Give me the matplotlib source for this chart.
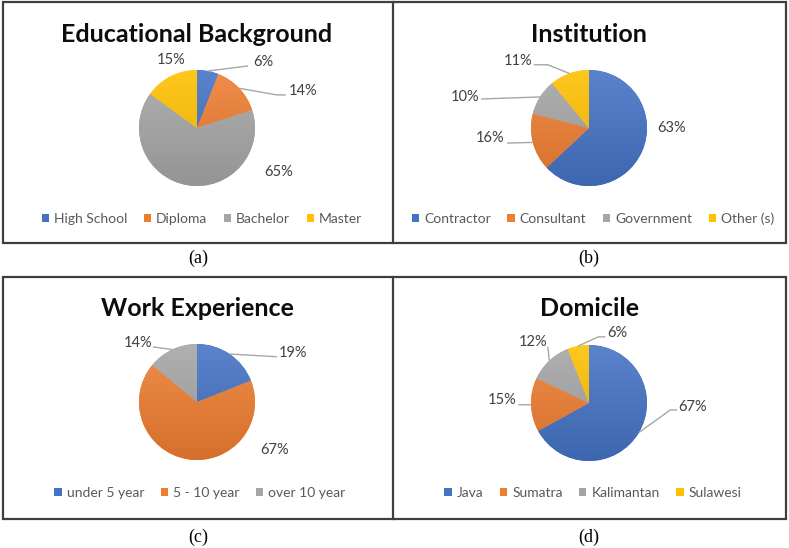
import matplotlib
matplotlib.use("Agg")
import matplotlib.pyplot as plt
from matplotlib.patches import Rectangle
from matplotlib.lines import Line2D
from matplotlib.colors import to_rgb
import numpy as np

# ---------------- data ----------------
titles = ["Educational Background", "Institution", "Work Experience", "Domicile"]
captions = ["(a)", "(b)", "(c)", "(d)"]

edu_labels = ["High School", "Diploma", "Bachelor", "Master"]
edu_values = [6, 14, 65, 15]

inst_labels = ["Contractor", "Consultant", "Government", "Other (s)"]
inst_values = [63, 16, 10, 11]

work_labels = ["under 5 year", "5 - 10 year", "over 10 year"]
work_values = [19, 67, 14]

dom_labels = ["Java", "Sumatra", "Kalimantan", "Sulawesi"]
dom_values = [67, 15, 12, 6]

colors = ["#4472C4", "#ED7D31", "#A5A5A5", "#FFC000"]

# ---------------- layout (pixels, top-left origin) ----------------
W, H = 789, 548
R = 58.0  # pie radius in px

# label positions in pie-radius units (relative to pie center)
edu_lab_pos = [(1.14, 1.14), (1.83, 0.64), (1.41, -0.76), (-0.45, 1.17)]
edu_leader = [[(0.88, 1.07)], [(1.38, 0.57), (1.53, 0.57)], None, None]

inst_lab_pos = [(1.43, 0.0), (-1.71, -0.17), (-2.14, 0.53), (-1.22, 1.16)]
inst_leader = [None, [(-1.41, -0.26)], [(-1.86, 0.50)], [(-0.71, 1.09), (-0.95, 1.09)]]

work_lab_pos = [(1.66, 0.84), (1.34, -0.83), (-1.02, 1.02)]
work_leader = [[(1.38, 0.78)], None, [(-0.76, 0.95)]]

dom_lab_pos = [(1.78, -0.07), (-1.5, 0.05), (-0.97, 1.05), (0.48, 1.2)]
dom_leader = [[(1.40, -0.12), (1.52, -0.12)], [(-1.22, -0.03)], [(-0.71, 0.97)],
              [(0.16, 1.14), (0.28, 1.14)]]

panels = [
    dict(labels=edu_labels, values=edu_values, lab=edu_lab_pos, lead=edu_leader,
         center=(197, 128), title_xy=(197, 42), legend_xy=(202, 219), cap_xy=(198, 258)),
    dict(labels=inst_labels, values=inst_values, lab=inst_lab_pos, lead=inst_leader,
         center=(589, 128), title_xy=(589, 42), legend_xy=(593, 219), cap_xy=(589, 258)),
    dict(labels=work_labels, values=work_values, lab=work_lab_pos, lead=work_leader,
         center=(197, 402), title_xy=(197, 316), legend_xy=(200, 493), cap_xy=(198, 537)),
    dict(labels=dom_labels, values=dom_values, lab=dom_lab_pos, lead=dom_leader,
         center=(589, 403), title_xy=(590, 316), legend_xy=(593, 493), cap_xy=(589, 537)),
]

SANS = ["Lato", "DejaVu Sans"]
SERIF = ["Liberation Serif", "DejaVu Serif"]


def fx(x):
    return x / W


def fy(y):
    return 1 - y / H


def gradient_img(c, n=64):
    base = np.array(to_rgb(c))
    t = np.linspace(0, 1, n)[:, None]  # 0 bottom -> 1 top
    light = base + (1 - base) * 0.12
    dark = base * 0.90
    rows = dark[None, :] * (1 - t) + light[None, :] * t
    return np.repeat(rows[:, None, :], 2, axis=1)


fig = plt.figure(figsize=(W / 100, H / 100), dpi=100)
fig.patch.set_facecolor("white")

# borders
bc = "#3F3F3F"
lw = 1.6
for (y0, y1) in [(2, 243), (277, 519)]:
    fig.add_artist(Rectangle((fx(2.5), fy(y1)), fx(786) - fx(2.5), fy(y0) - fy(y1),
                             transform=fig.transFigure, fill=False, edgecolor=bc, lw=lw))
    fig.add_artist(Line2D([fx(393), fx(393)], [fy(y0), fy(y1)],
                          transform=fig.transFigure, color=bc, lw=lw))

AX = 320.0  # axes box size px
for i, p in enumerate(panels):
    cx, cy = p["center"]
    ax = fig.add_axes([fx(cx - AX / 2), fy(cy + AX / 2), AX / W, AX / H])
    vals = p["values"]
    wedges, _ = ax.pie(vals, colors=colors[:len(vals)], startangle=90, counterclock=False,
                       radius=1.0, wedgeprops=dict(linewidth=0))
    # gradient fill clipped to each wedge
    for w, c in zip(wedges, colors):
        im = ax.imshow(gradient_img(c), extent=[-1, 1, -1, 1], origin="lower",
                       interpolation="bilinear", zorder=w.get_zorder() + 0.1, aspect="auto")
        im.set_clip_path(w)
    lim = AX / 2 / R
    ax.set_xlim(-lim, lim)
    ax.set_ylim(-lim, lim)
    ax.set_aspect("equal")
    ax.axis("off")

    total = float(sum(vals))
    cum = 0.0
    for j, v in enumerate(vals):
        mid = 90 - 360 * (cum + v / 2) / total
        cum += v
        ex, ey = np.cos(np.radians(mid)), np.sin(np.radians(mid))
        lead = p["lead"][j]
        if lead:
            xs = [ex] + [q[0] for q in lead]
            ys = [ey] + [q[1] for q in lead]
            ax.plot(xs, ys, color="#A6A6A6", lw=1.0, clip_on=False, solid_capstyle="butt",
                    zorder=3)
        lx, ly = p["lab"][j]
        ax.text(lx, ly, f"{v}%", ha="center", va="center", fontsize=10.5,
                color="#404040", family=SANS, clip_on=False, zorder=4)

    # title
    fig.text(fx(p["title_xy"][0]), fy(p["title_xy"][1]), titles[i], ha="center",
             va="baseline", fontsize=18, fontweight="bold", color="#0D0D0D", family=SANS)

    # legend
    leg = ax.legend(wedges, p["labels"], loc="center",
                    bbox_to_anchor=(fx(p["legend_xy"][0]), fy(p["legend_xy"][1])),
                    bbox_transform=fig.transFigure, ncol=len(vals), frameon=False,
                    handlelength=0.52, handleheight=0.52, handletextpad=0.36,
                    columnspacing=1.2, borderaxespad=0, borderpad=0,
                    prop=dict(family=SANS, size=10), labelcolor="#595959")

    # caption
    fig.text(fx(p["cap_xy"][0]), fy(p["cap_xy"][1]), captions[i], ha="center",
             va="center", fontsize=13, color="#000000", family=SERIF)

fig.savefig("out.png", dpi=100, facecolor="white")
